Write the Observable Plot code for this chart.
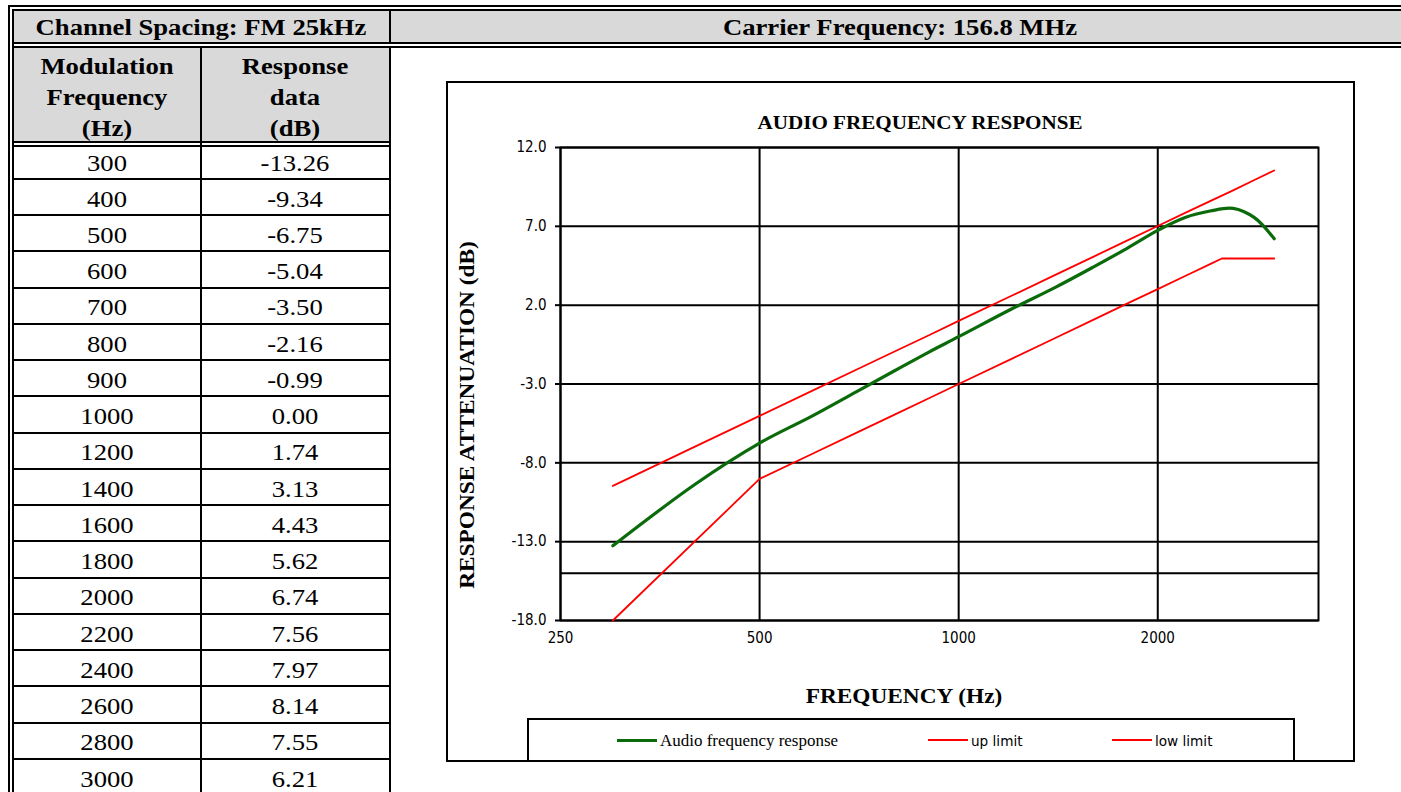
<!DOCTYPE html>
<html><head><meta charset="utf-8">
<script src="https://cdn.jsdelivr.net/npm/d3@7"></script>
<script src="https://cdn.jsdelivr.net/npm/@observablehq/plot@0.6"></script>
<style>
html,body{margin:0;padding:0;background:#fff;}
body{width:1401px;height:792px;overflow:hidden;position:relative;font-family:"Liberation Serif","Times New Roman",serif;color:#000;}
.blk{position:absolute;background:#000;}
.gray{position:absolute;background:#d9d9d9;}
.ct{position:absolute;text-align:center;transform:translate(-50%,-50%) scaleX(1.11);white-space:nowrap;line-height:1;}
.lt{position:absolute;transform:translate(0,-50%);transform-origin:0 50%;white-space:nowrap;line-height:1;}
</style></head><body>
<script>
// ---- data ----
const headerLeft = "Channel Spacing: FM 25kHz";
const headerRight = "Carrier Frequency: 156.8 MHz";
const colHead1 = ["Modulation","Frequency","(Hz)"];
const colHead2 = ["Response","data","(dB)"];
const freqs = [300,400,500,600,700,800,900,1000,1200,1400,1600,1800,2000,2200,2400,2600,2800,3000];
const response = [-13.26,-9.34,-6.75,-5.04,-3.50,-2.16,-0.99,0.00,1.74,3.13,4.43,5.62,6.74,7.56,7.97,8.14,7.55,6.21];
const responseText = ["-13.26","-9.34","-6.75","-5.04","-3.50","-2.16","-0.99","0.00","1.74","3.13","4.43","5.62","6.74","7.56","7.97","8.14","7.55","6.21"];
const upFreqs = [300,400,500,600,700,800,900,1000,1200,1400,1600,1800,2000,2200,2400,2600,2800,3000];
const upLimit = [-9.46,-6.96,-5.02,-3.44,-2.10,-0.94,0.08,1.00,2.58,3.92,5.08,6.11,7.02,7.85,8.60,9.28,9.94,10.54];
const lowFreqs = [300,500,600,700,800,900,1000,1200,1400,1600,1800,2000,2200,2400,2500,2600,2800,3000];
const lowLimit = [-18.00,-9.02,-7.44,-6.10,-4.94,-3.92,-3.00,-1.42,-0.08,1.08,2.11,3.02,3.85,4.60,4.96,4.96,4.96,4.96];
const xTicks = [250,500,1000,2000];
const xDomain = [250,3500];
const yTicks = [-18,-13,-8,-3,2,7,12];
const yDomain = [-18,12];
const extraLine = [-15];
const chartTitle = "AUDIO FREQUENCY RESPONSE";
const xLabel = "FREQUENCY (Hz)";
const yLabel = "RESPONSE ATTENUATION  (dB)";
const narrow = '"Liberation Sans Narrow","Arial Narrow","DejaVu Sans Condensed",sans-serif';
const legendItems = [
  {name:"Audio frequency response", color:"#0b6b0b", width:3, font:'16px "Liberation Serif",serif', sx:1.06, x:617},
  {name:"up limit", color:"#ff0000", width:2, font:'14px '+narrow, sx:1.08, x:928},
  {name:"low limit", color:"#ff0000", width:2, font:'14px '+narrow, sx:1.08, x:1112}
];

// ---- helpers ----
function box(x,y,w,h,cls){const d=document.createElement('div');d.className=cls;Object.assign(d.style,{left:x+'px',top:y+'px',width:w+'px',height:h+'px'});document.body.appendChild(d);return d;}
function txt(x,y,s,style,cls){const d=document.createElement('div');d.className=cls||'ct';d.textContent=s;d.style.left=x+'px';d.style.top=y+'px';Object.assign(d.style,style||{});document.body.appendChild(d);return d;}

// ---- table frame ----
box(14,11,1387,31,'gray');
box(14,48,375,93,'gray');
box(8,5,1393,2,'blk'); box(12,9,1389,2,'blk');
box(8,5,2,787,'blk'); box(12,9,2,783,'blk');
box(12,42,1389,2,'blk'); box(12,46,1389,2,'blk');
box(389,11,2,31,'blk');
box(389,48,2,744,'blk');
box(200,48,2,744,'blk');
box(12,141,378,2,'blk'); box(12,145,378,2,'blk');

const bold24 = {fontWeight:'bold',fontSize:'24px'};
txt(201,27,headerLeft,bold24);
txt(900,27,headerRight,bold24);
colHead1.forEach((s,i)=>txt(107,66+i*31,s,bold24));
colHead2.forEach((s,i)=>txt(295,66+i*31,s,bold24));
const rowH = 36.24;
freqs.forEach((f,k)=>{
  const cy = 162.5 + rowH*k;
  txt(107,cy,String(f),{fontSize:'24px'});
  txt(295,cy,responseText[k],{fontSize:'24px'});
  if(k<freqs.length-1) box(14,Math.round(178+rowH*k),375,2,'blk');
});

// ---- chart box ----
const cb = box(446,81,909,681,'');
cb.style.position='absolute'; cb.style.border='2px solid #000'; cb.style.boxSizing='border-box';

const up = upFreqs.map((f,i)=>({f,v:upLimit[i]}));
const low = lowFreqs.map((f,i)=>({f,v:lowLimit[i]}));
const resp = freqs.map((f,i)=>({f,v:response[i]}));
const chart = Plot.plot({
  width:909, height:681, marginLeft:114, marginRight:37, marginTop:66, marginBottom:142,
  style:{fontFamily:narrow, fontSize:'15px', color:'#000', background:'transparent', overflow:'visible'},
  x:{type:'log', domain:xDomain, label:null},
  y:{domain:yDomain, label:null},
  marks:[
    Plot.ruleY(yTicks.concat(extraLine), {stroke:'#000', strokeWidth:2}),
    Plot.ruleX(xTicks, {stroke:'#000', strokeWidth:2}),
    Plot.frame({stroke:'#000', strokeWidth:2}),
    Plot.line(up, {x:'f', y:'v', stroke:'#ff0000', strokeWidth:1.8}),
    Plot.line(low, {x:'f', y:'v', stroke:'#ff0000', strokeWidth:1.8}),
    Plot.line(resp, {x:'f', y:'v', stroke:'#0b6b0b', strokeWidth:3.2, curve:'catmull-rom'}),
    Plot.axisY({ticks:yTicks, tickFormat:d=>d.toFixed(1), tickSize:5, tickPadding:9, stroke:'#000', strokeWidth:2, label:null}),
    Plot.axisX({ticks:xTicks, tickFormat:d=>String(d), tickSize:0, tickPadding:12, label:null})
  ]
});
chart.style.position='absolute'; chart.style.left='446px'; chart.style.top='81px';
document.body.appendChild(chart);

txt(920,122,chartTitle,{fontWeight:'bold',fontSize:'19px'});
txt(904,696,xLabel,{fontWeight:'bold',fontSize:'21px'});
txt(467,415,yLabel,{fontWeight:'bold',fontSize:'21px',transform:'translate(-50%,-50%) rotate(-90deg) scaleX(1.11)'});

// ---- legend ----
const lg = box(527,718,768,44,'');
lg.style.position='absolute'; lg.style.border='2px solid #000'; lg.style.borderBottom='none'; lg.style.boxSizing='border-box';
legendItems.forEach(it=>{
  box(it.x,740-it.width/2,40,it.width,'blk').style.background=it.color;
  txt(it.x+43,741,it.name,{font:it.font,transform:'translate(0,-50%) scaleX('+it.sx+')'},'lt');
});
</script>
</body></html>
